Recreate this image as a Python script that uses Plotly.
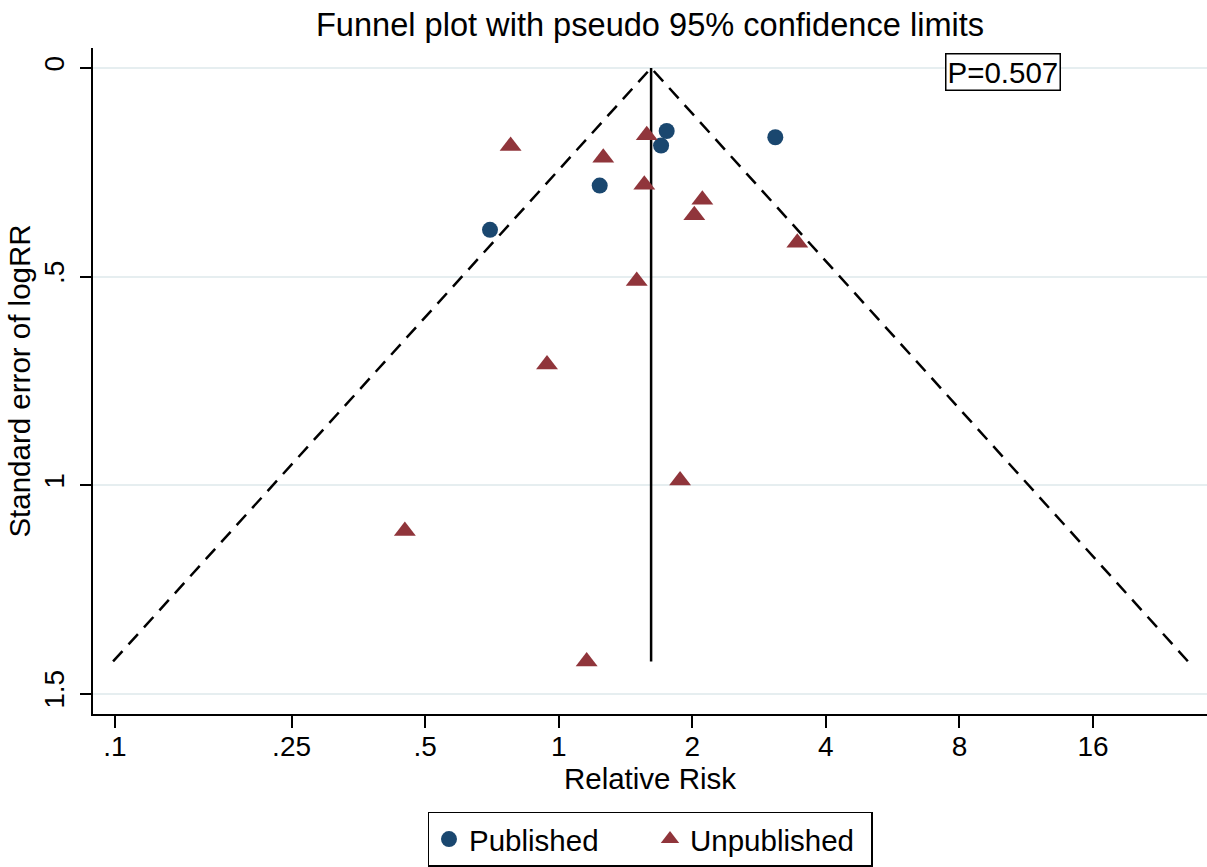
import plotly.graph_objects as go

# Published studies
pub_rr = [1.751, 1.701, 3.077, 1.237, 0.700]
pub_se = [0.151, 0.186, 0.166, 0.282, 0.388]

# Unpublished studies
unpub_rr = [0.779, 1.579, 1.260, 1.559, 2.107, 2.021, 3.449, 1.499, 0.941, 1.877, 0.450, 1.156]
unpub_se = [0.187, 0.161, 0.215, 0.280, 0.316, 0.353, 0.419, 0.511, 0.711, 0.989, 1.110, 1.423]

# Pooled estimate line and pseudo 95% limits
pooled_x = [1.615, 1.615]
pooled_y = [0.0, 1.423]
funnel_x = [0.099, 1.615, 26.2]
funnel_y = [1.423, 0.0, 1.423]

x_tickvals = [0.1, 0.25, 0.5, 1, 2, 4, 8, 16]
x_ticktext = [".1", ".25", ".5", "1", "2", "4", "8", "16"]
y_tickvals = [0, 0.5, 1, 1.5]
y_ticktext = ["0", ".5", "1", "1.5"]

NAVY = "#1a476f"
MAROON = "#90353b"
FONT = "Liberation Sans, Arial, Helvetica, sans-serif"

fig = go.Figure()
fig.add_trace(go.Scatter(x=funnel_x, y=funnel_y, mode="lines",
                         line=dict(color="black", width=2.5, dash="14px,9px"),
                         showlegend=False, hoverinfo="skip"))
fig.add_trace(go.Scatter(x=pooled_x, y=pooled_y, mode="lines",
                         line=dict(color="black", width=2.5),
                         showlegend=False, hoverinfo="skip"))
fig.add_trace(go.Scatter(x=pub_rr, y=pub_se, mode="markers", name="Published",
                         marker=dict(symbol="circle", size=16, color=NAVY)))
fig.add_trace(go.Scatter(x=unpub_rr, y=unpub_se, mode="markers", name="Unpublished",
                         marker=dict(symbol="triangle-up", size=19, color=MAROON)))

fig.update_layout(
    width=1207, height=867,
    margin=dict(l=93, r=0, t=48, b=153),
    paper_bgcolor="white", plot_bgcolor="white",
    font=dict(family=FONT, size=28, color="black"),
    title=dict(text="Funnel plot with pseudo 95% confidence limits",
               x=0.5, xref="paper", xanchor="center",
               y=1 - 25 / 867, yref="container", yanchor="middle",
               font=dict(size=32.6, color="black")),
    xaxis=dict(type="log", range=[-1.0496, 1.461],
               tickvals=x_tickvals, ticktext=x_ticktext,
               showgrid=False, zeroline=False,
               showline=True, linecolor="black", linewidth=1.5,
               ticks="outside", ticklen=12, tickwidth=1.5, tickcolor="black",
               tickfont=dict(size=28), ticklabelstandoff=-5,
               title=dict(text="Relative Risk", font=dict(size=29.5), standoff=4)),
    yaxis=dict(range=[1.549, -0.048],
               tickvals=y_tickvals, ticktext=y_ticktext, tickangle=-90,
               showgrid=True, gridcolor="#e6eef0", gridwidth=1.5,
               zeroline=False,
               showline=True, linecolor="black", linewidth=1.5,
               ticks="outside", ticklen=11, tickwidth=1.5, tickcolor="black",
               tickfont=dict(size=28), ticklabelstandoff=5,
               title=dict(text="Standard error of logRR", font=dict(size=29.5), standoff=0)),
    legend=dict(orientation="h", x=0.5, xanchor="center", y=-0.147, yanchor="top",
                bgcolor="white", bordercolor="black", borderwidth=1.5,
                font=dict(size=29.5), entrywidth=176, entrywidthmode="pixels"),
    annotations=[dict(text="P=0.507", xref="paper", yref="paper",
                      x=0.817, y=0.964, xanchor="center", yanchor="middle",
                      showarrow=False, bordercolor="black", borderwidth=1.5,
                      borderpad=1, bgcolor="white", font=dict(size=29.5))],
)

fig.write_html("out.html")
